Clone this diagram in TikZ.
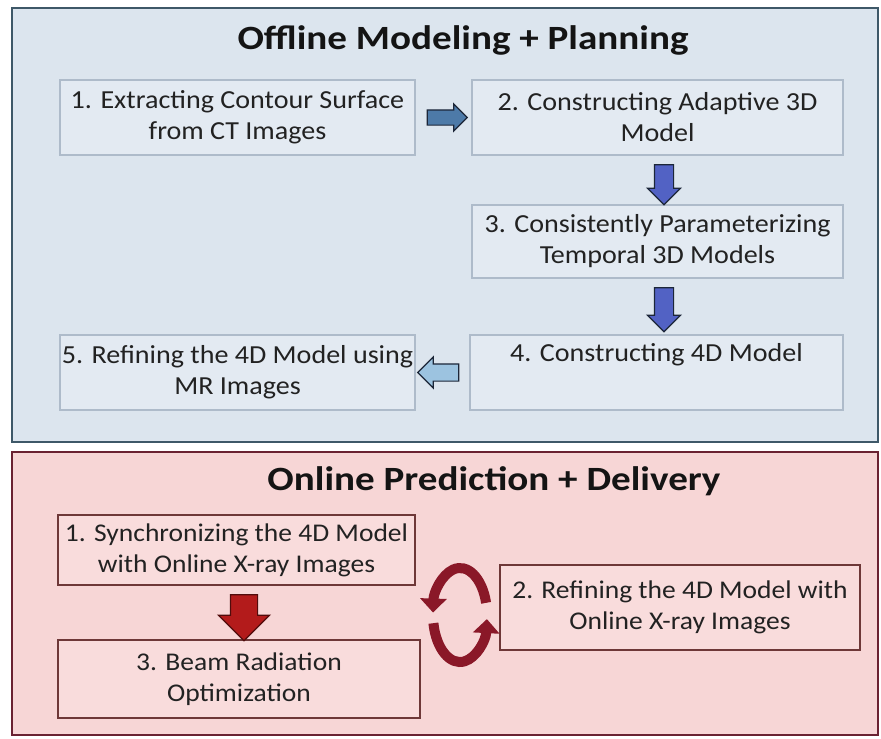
\documentclass[tikz,border=0pt]{standalone}
\usepackage{fontspec}
\setmainfont{Carlito}[FakeStretch=1.08]
\newfontfamily\titlefont{Carlito}[FakeStretch=1.15]
\usetikzlibrary{shapes.arrows,arrows.meta,calc}
\definecolor{topfill}{HTML}{DCE5EE}
\definecolor{topborder}{HTML}{3E5868}
\definecolor{tboxfill}{HTML}{E3EAF2}
\definecolor{tboxdraw}{HTML}{AEBBCA}
\definecolor{botfill}{HTML}{F7D6D6}
\definecolor{botborder}{HTML}{6A2232}
\definecolor{bboxfill}{HTML}{F9DCDC}
\definecolor{bboxdraw}{HTML}{6E3838}
\definecolor{txt}{HTML}{222222}
\definecolor{arrblue}{HTML}{4D7AA8}
\definecolor{arrpurple}{HTML}{5262C4}
\definecolor{arrlight}{HTML}{9CC3E0}
\definecolor{arrred}{HTML}{B31B1B}
\definecolor{cycred}{HTML}{8A1828}
\definecolor{arrline}{HTML}{1C2638}
\begin{document}
\begin{tikzpicture}[x=1pt,y=-1pt,
  panel/.style={line width=2.6pt},
  tbox/.style={draw=tboxdraw,fill=tboxfill,line width=1.6pt,align=center,text=txt,font=\fontsize{26}{31}\selectfont,inner sep=0pt},
  bbox/.style={draw=bboxdraw,fill=bboxfill,line width=1.6pt,align=center,text=txt,font=\fontsize{25.5}{31}\selectfont,inner sep=0pt},
  ttl/.style={text=black!92,font=\titlefont\fontsize{34}{38}\selectfont\bfseries},
  barrow/.style={single arrow,draw=arrline,line width=1.2pt,text width=0pt,text height=0pt,text depth=0pt},
  cyc/.style={draw=cycred,line width=10pt,-{Triangle[width=26pt,length=14pt]}}
]
\useasboundingbox (0,0) rectangle (881,739);
\fill[white] (0,0) rectangle (881,739);
% panels
\node[panel,draw=topborder,fill=topfill,minimum width=866pt,minimum height=434pt,inner sep=0pt] (top) at (445,225) {};
\node[panel,draw=botborder,fill=botfill,minimum width=866pt,minimum height=283pt,inner sep=0pt] (bot) at (445,593.5) {};
\node[ttl] (ttop) at (463,40) {Offline Modeling + Planning};
\node[ttl] (tbot) at (494,481) {Online Prediction + Delivery};
% top boxes
\node[tbox,minimum width=355pt,minimum height=75pt] (o1) at (237.5,117.5) {1. Extracting Contour Surface\\from CT Images};
\node[tbox,minimum width=371pt,minimum height=75pt] (o2) at (657.5,117.5) {2. Constructing Adaptive 3D\\Model};
\node[tbox,minimum width=371pt,minimum height=73pt] (o3) at (657.5,241.5) {3. Consistently Parameterizing\\Temporal 3D Models};
\node[tbox,minimum width=373pt,minimum height=75pt] (o4) at (656.5,372.5) {4. Constructing 4D Model\\\strut};
\node[tbox,minimum width=355pt,minimum height=75pt] (o5) at (237.5,372.5) {5. Refining the 4D Model using\\MR Images};
% top arrows
\node[barrow,fill=arrblue,inner sep=7pt,single arrow head extend=6pt,minimum height=40pt,minimum width=26pt] (a12) at ($(o1.east)!0.5!(o2.west)$) {};
\node[barrow,fill=arrpurple,inner sep=9pt,single arrow head extend=7pt,minimum height=40pt,minimum width=32pt,shape border rotate=270] (a23) at (664,180) {};
\node[barrow,fill=arrpurple,inner sep=9pt,single arrow head extend=7pt,minimum height=44pt,minimum width=32pt,shape border rotate=270] (a34) at (664,305) {};
\node[barrow,fill=arrlight,inner sep=8pt,single arrow head extend=7pt,minimum height=41pt,minimum width=30pt,shape border rotate=180] (a45) at ($(o5.east)!0.5!(o4.west)$) {};
% bottom boxes
\node[bbox,minimum width=357pt,minimum height=70pt] (p1) at (236.5,550) {1. Synchronizing the 4D Model\\with Online X-ray Images};
\node[bbox,minimum width=362pt,minimum height=78pt] (p3) at (239,679) {3. Beam Radiation\\Optimization};
\node[bbox,minimum width=360pt,minimum height=85pt] (p2) at (680,607.5) {2. Refining the 4D Model with\\Online X-ray Images};
\node[barrow,fill=arrred,draw=arrred!45!black,inner sep=13pt,single arrow head extend=12pt,minimum height=46pt,minimum width=50pt,shape border rotate=270] (a13) at (244,611) {};
% cycle arrows
\coordinate (cc) at (460,615);
\draw[cyc] ($(cc)+(345:27 and 47)$) arc[start angle=345,end angle=183,x radius=27,y radius=47];
\draw[cyc] ($(cc)+(170:27 and 47)$) arc[start angle=170,end angle=5,x radius=27,y radius=47];
\end{tikzpicture}
\end{document}
